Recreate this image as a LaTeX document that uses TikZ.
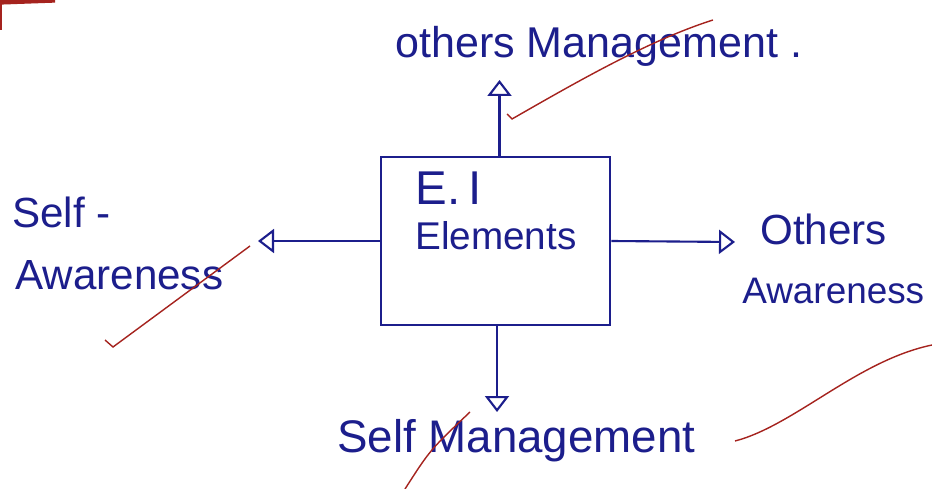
\documentclass[tikz,border=0pt]{standalone}
\usepackage{fontspec}
\setmainfont{Liberation Sans}
\usetikzlibrary{arrows.meta}
\definecolor{ink}{RGB}{28,30,140}
\definecolor{redink}{RGB}{165,35,30}
\begin{document}
\begin{tikzpicture}[x=0.02cm,y=-0.02cm,
  lbl/.style={text=ink, font=\fontsize{24}{28}\selectfont, inner sep=0pt, anchor=base west},
  boxstyle/.style={draw=ink, line width=1.5pt, minimum width=4.58cm, minimum height=3.36cm, inner sep=0pt},
  conn/.style={draw=ink, line width=1.2pt, -{Triangle[open,length=0.32cm,width=0.48cm,line width=1.2pt]}},
  tick/.style={draw=redink, line width=0.8pt}]
\useasboundingbox (0,0) rectangle (932,489);
\fill[white] (0,0) rectangle (932,489);
% central box
\node (box) [boxstyle] at (495.5,241) {};
\node (ei) [lbl, font=\fontsize{27}{30}\selectfont] at (415,205) {E.\,I};
\node (elem) [lbl, font=\fontsize{22}{26}\selectfont] at (415,250) {Elements};
% labels
\node (om) [lbl, font=\fontsize{24.5}{28}\selectfont] at (395,58) {others Management .};
\node (sa1) [lbl] at (12,228) {Self -};
\node (sa2) [lbl] at (15,290) {Awareness};
\node (oa1) [lbl] at (760,245) {Others};
\node (oa2) [lbl, font=\fontsize{21}{24}\selectfont] at (742,303) {Awareness};
\node (sm) [lbl, font=\fontsize{26}{30}\selectfont] at (337,452) {Self Management};
% arrow ends
\coordinate (toptip) at (499.5,80);
\coordinate (lefttip) at (258,241);
\coordinate (righttip) at (735,242);
\coordinate (bottip) at (497,412);
\coordinate (topstart) at (499.5,157);
\coordinate (botstart) at (497,325);
\draw[conn] (topstart) -- (toptip);
\draw[conn] (box.west) -- (lefttip);
\draw[conn] (box.east) -- (righttip);
\draw[conn] (botstart) -- (bottip);
% red ticks
\draw[tick] (507,114) -- (512,119) .. controls (580,80) and (650,40) .. (713,20);
\draw[tick] (105,340) -- (113,347) -- (250,246);
\draw[tick] (405,489) .. controls (430,450) .. (470,412);
\draw[tick] (735,441) -- (742,439) .. controls (800,420) and (860,360) .. (932,345);
\draw[redink, line width=3pt] (0,2) -- (55,0);
\draw[redink, line width=1pt] (1,0) -- (1,30);
\end{tikzpicture}
\end{document}
